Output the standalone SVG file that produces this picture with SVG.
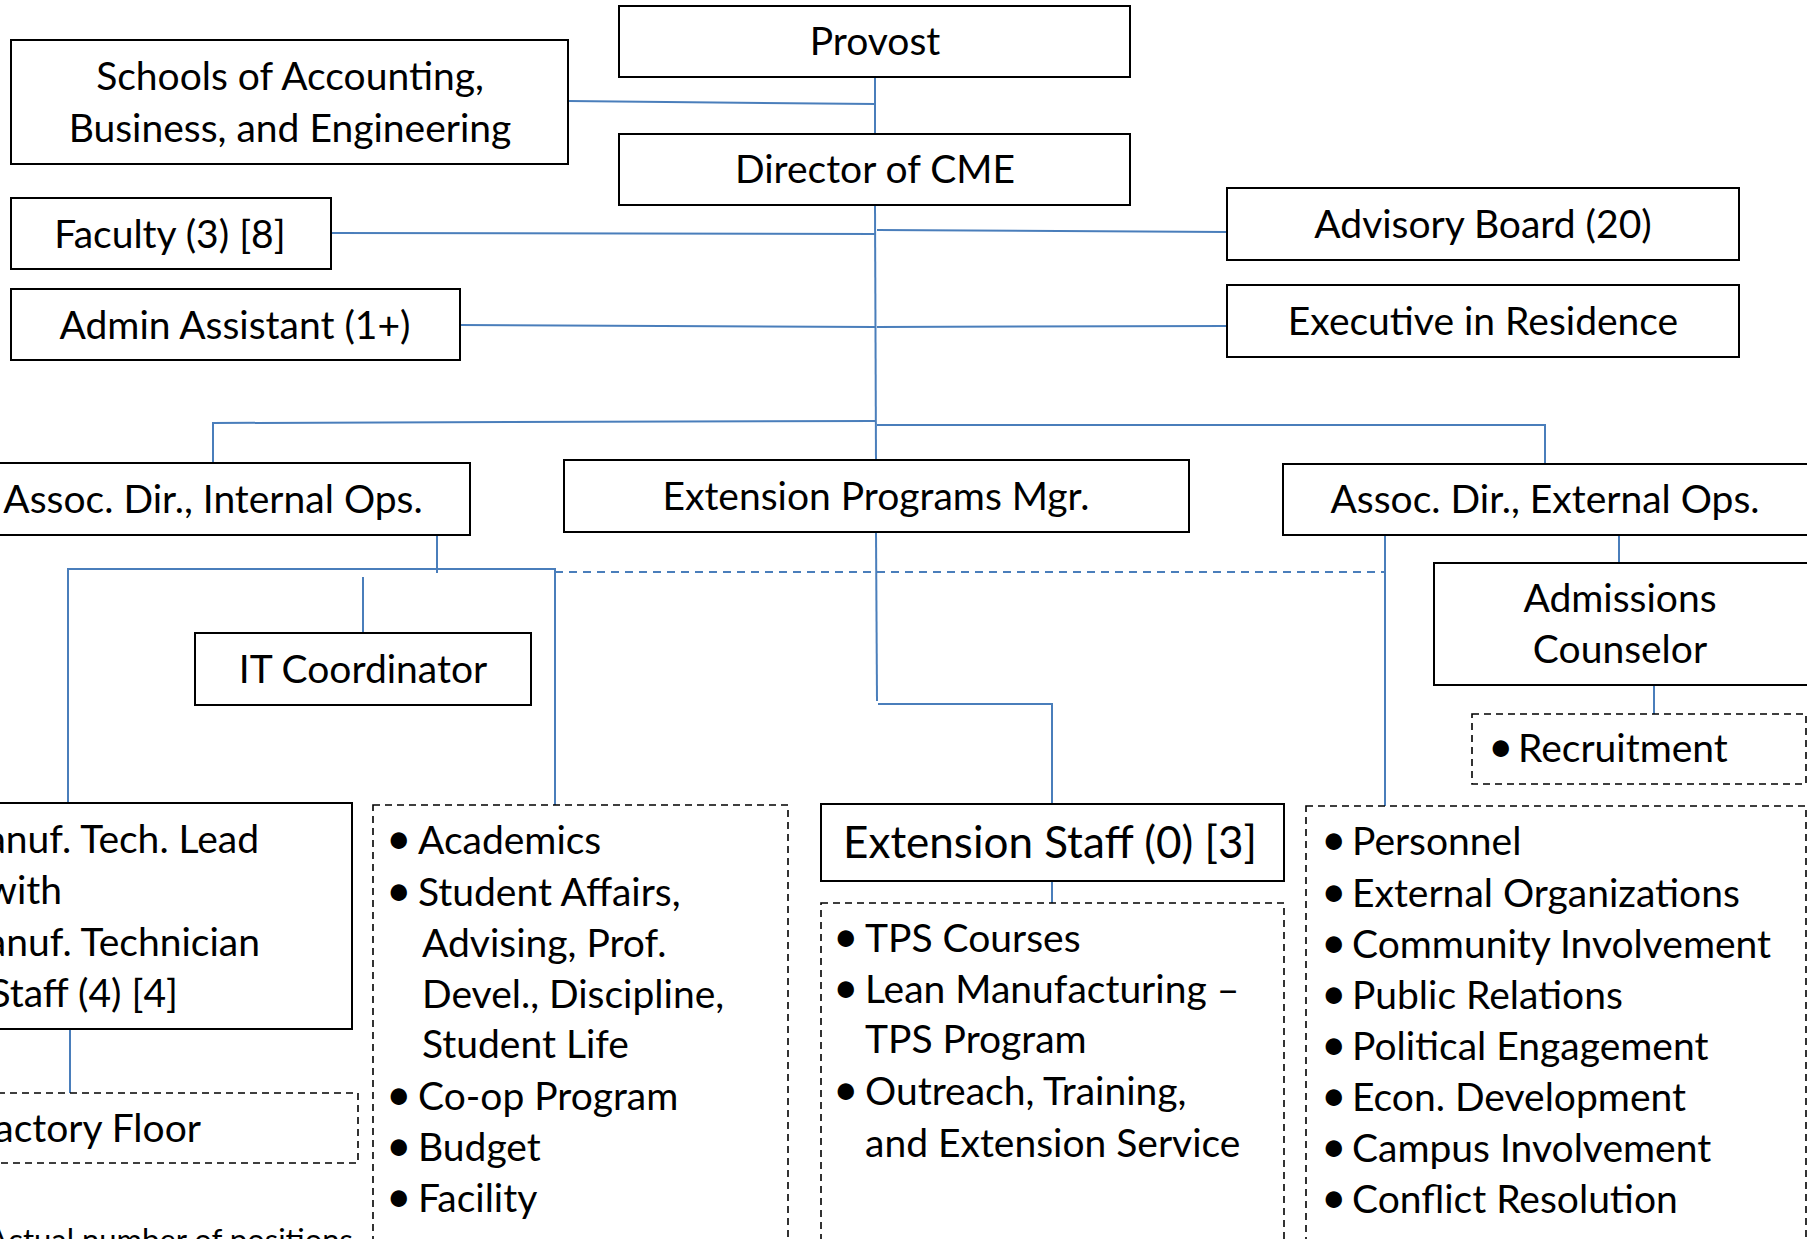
<svg xmlns="http://www.w3.org/2000/svg" width="1807" height="1239" viewBox="0 0 1807 1239">
<style>
  .box { fill: #ffffff; stroke: #000000; stroke-width: 2; }
  .dbox { fill: #ffffff; stroke: #000000; stroke-width: 1.6; stroke-dasharray: 7 5; }
  .t { font-family: Lato, "Open Sans", "Liberation Sans", sans-serif; font-size: 39px; fill: #000000; }
  .c { text-anchor: middle; }
  .e { text-anchor: end; }
  .b { font-size: 44px; }
  .big { font-size: 44px; }
  .small { font-size: 31px; }
  .ln { stroke: #4A7EBB; stroke-width: 2; fill: none; }
  .dl { stroke: #4A7EBB; stroke-width: 2; fill: none; stroke-dasharray: 8 6; }
</style>
<rect width="1807" height="1239" fill="#ffffff"/>

<g id="connectors">
  <line class="ln" x1="875" y1="77" x2="875" y2="134"/>
  <line class="ln" x1="568" y1="101" x2="875" y2="104"/>
  <line class="ln" x1="875" y1="205" x2="876" y2="460"/>
  <line class="ln" x1="331" y1="233" x2="875" y2="234"/>
  <line class="ln" x1="877" y1="230" x2="1227" y2="232"/>
  <line class="ln" x1="460" y1="325" x2="875" y2="327"/>
  <line class="ln" x1="877" y1="327" x2="1227" y2="326"/>
  <polyline class="ln" points="875,421 213,423 213,463"/>
  <polyline class="ln" points="877,425 1545,425 1545,464"/>
  <line class="ln" x1="437" y1="535" x2="437" y2="573"/>
  <polyline class="ln" points="68,803 68,569 555,569 555,805"/>
  <line class="ln" x1="363" y1="577" x2="363" y2="633"/>
  <line class="dl" x1="555" y1="572" x2="1385" y2="572"/>
  <line class="ln" x1="876" y1="532" x2="877" y2="701"/>
  <polyline class="ln" points="878,704 1052,704 1052,804"/>
  <line class="ln" x1="1385" y1="535" x2="1385" y2="806"/>
  <line class="ln" x1="1619" y1="535" x2="1619" y2="563"/>
  <line class="ln" x1="1654" y1="685" x2="1654" y2="714"/>
  <line class="ln" x1="70" y1="1029" x2="70" y2="1093"/>
  <line class="ln" x1="1052" y1="881" x2="1052" y2="903"/>
</g>

<g id="provost">
  <rect class="box" x="619" y="6" width="511" height="71"/>
  <text class="t c" x="875" y="55">Provost</text>
</g>
<g id="schools">
  <rect class="box" x="11" y="40" width="557" height="124"/>
  <text class="t c" x="290" y="90">Schools of Accounting,</text>
  <text class="t c" x="290" y="142">Business, and Engineering</text>
</g>
<g id="director">
  <rect class="box" x="619" y="134" width="511" height="71"/>
  <text class="t c" x="875" y="183">Director of CME</text>
</g>
<g id="faculty">
  <rect class="box" x="11" y="198" width="320" height="71"/>
  <text class="t c" x="170" y="248">Faculty (3) [8]</text>
</g>
<g id="admin-assistant">
  <rect class="box" x="11" y="289" width="449" height="71"/>
  <text class="t c" x="235" y="339">Admin Assistant (1+)</text>
</g>
<g id="advisory-board">
  <rect class="box" x="1227" y="188" width="512" height="72"/>
  <text class="t c" x="1483" y="238">Advisory Board (20)</text>
</g>
<g id="executive">
  <rect class="box" x="1227" y="285" width="512" height="72"/>
  <text class="t c" x="1483" y="335">Executive in Residence</text>
</g>
<g id="assoc-internal">
  <rect class="box" x="-44" y="463" width="514" height="72"/>
  <text class="t c" x="213" y="513">Assoc. Dir., Internal Ops.</text>
</g>
<g id="extension-mgr">
  <rect class="box" x="564" y="460" width="625" height="72"/>
  <text class="t c" x="876" y="510">Extension Programs Mgr.</text>
</g>
<g id="assoc-external">
  <rect class="box" x="1283" y="464" width="525" height="71"/>
  <text class="t c" x="1545" y="513">Assoc. Dir., External Ops.</text>
</g>
<g id="it-coordinator">
  <rect class="box" x="195" y="633" width="336" height="72"/>
  <text class="t c" x="363" y="683">IT Coordinator</text>
</g>
<g id="admissions">
  <rect class="box" x="1434" y="563" width="374" height="122"/>
  <text class="t c" x="1620" y="612">Admissions</text>
  <text class="t c" x="1620" y="663">Counselor</text>
</g>
<g id="recruitment">
  <rect class="dbox" x="1472" y="714" width="334" height="70"/>
  <text class="t" y="762"><tspan class="b" x="1488">•</tspan><tspan x="1518">Recruitment</tspan></text>
</g>
<g id="manuf-tech">
  <rect class="box" x="-212" y="803" width="564" height="226"/>
  <text class="t e" x="259" y="853">Manuf. Tech. Lead</text>
  <text class="t e" x="62" y="904">with</text>
  <text class="t e" x="260" y="956">Manuf. Technician</text>
  <text class="t e" x="178" y="1007">Staff (4) [4]</text>
</g>
<g id="factory-floor">
  <rect class="dbox" x="-218" y="1093" width="576" height="70"/>
  <text class="t e" x="201" y="1142">Factory Floor</text>
</g>
<g id="internal-duties">
  <rect class="dbox" x="373" y="805" width="415" height="440"/>
  <text class="t" y="854"><tspan class="b" x="386">•</tspan><tspan x="418">Academics</tspan></text>
  <text class="t" y="906"><tspan class="b" x="386">•</tspan><tspan x="418">Student Affairs,</tspan></text>
  <text class="t" x="422" y="957">Advising, Prof.</text>
  <text class="t" x="422" y="1008">Devel., Discipline,</text>
  <text class="t" x="422" y="1058">Student Life</text>
  <text class="t" y="1110"><tspan class="b" x="386">•</tspan><tspan x="418">Co-op Program</tspan></text>
  <text class="t" y="1161"><tspan class="b" x="386">•</tspan><tspan x="418">Budget</tspan></text>
  <text class="t" y="1212"><tspan class="b" x="386">•</tspan><tspan x="418">Facility</tspan></text>
</g>
<g id="extension-staff">
  <rect class="box" x="821" y="804" width="463" height="77"/>
  <text class="t c big" x="1050" y="858">Extension Staff (0) [3]</text>
</g>
<g id="extension-duties">
  <rect class="dbox" x="821" y="903" width="463" height="342"/>
  <text class="t" y="952"><tspan class="b" x="833">•</tspan><tspan x="865">TPS Courses</tspan></text>
  <text class="t" y="1003"><tspan class="b" x="833">•</tspan><tspan x="865">Lean Manufacturing –</tspan></text>
  <text class="t" x="865" y="1053">TPS Program</text>
  <text class="t" y="1105"><tspan class="b" x="833">•</tspan><tspan x="865">Outreach, Training,</tspan></text>
  <text class="t" x="865" y="1157">and Extension Service</text>
</g>
<g id="external-duties">
  <rect class="dbox" x="1306" y="806" width="500" height="439"/>
  <text class="t" y="855"><tspan class="b" x="1321">•</tspan><tspan x="1352">Personnel</tspan></text>
  <text class="t" y="907"><tspan class="b" x="1321">•</tspan><tspan x="1352">External Organizations</tspan></text>
  <text class="t" y="958"><tspan class="b" x="1321">•</tspan><tspan x="1352">Community Involvement</tspan></text>
  <text class="t" y="1009"><tspan class="b" x="1321">•</tspan><tspan x="1352">Public Relations</tspan></text>
  <text class="t" y="1060"><tspan class="b" x="1321">•</tspan><tspan x="1352">Political Engagement</tspan></text>
  <text class="t" y="1111"><tspan class="b" x="1321">•</tspan><tspan x="1352">Econ. Development</tspan></text>
  <text class="t" y="1162"><tspan class="b" x="1321">•</tspan><tspan x="1352">Campus Involvement</tspan></text>
  <text class="t" y="1213"><tspan class="b" x="1321">•</tspan><tspan x="1352">Conflict Resolution</tspan></text>
</g>
<g id="footnote">
  <text class="t small e" x="353" y="1251">Actual number of positions</text>
</g>
</svg>
